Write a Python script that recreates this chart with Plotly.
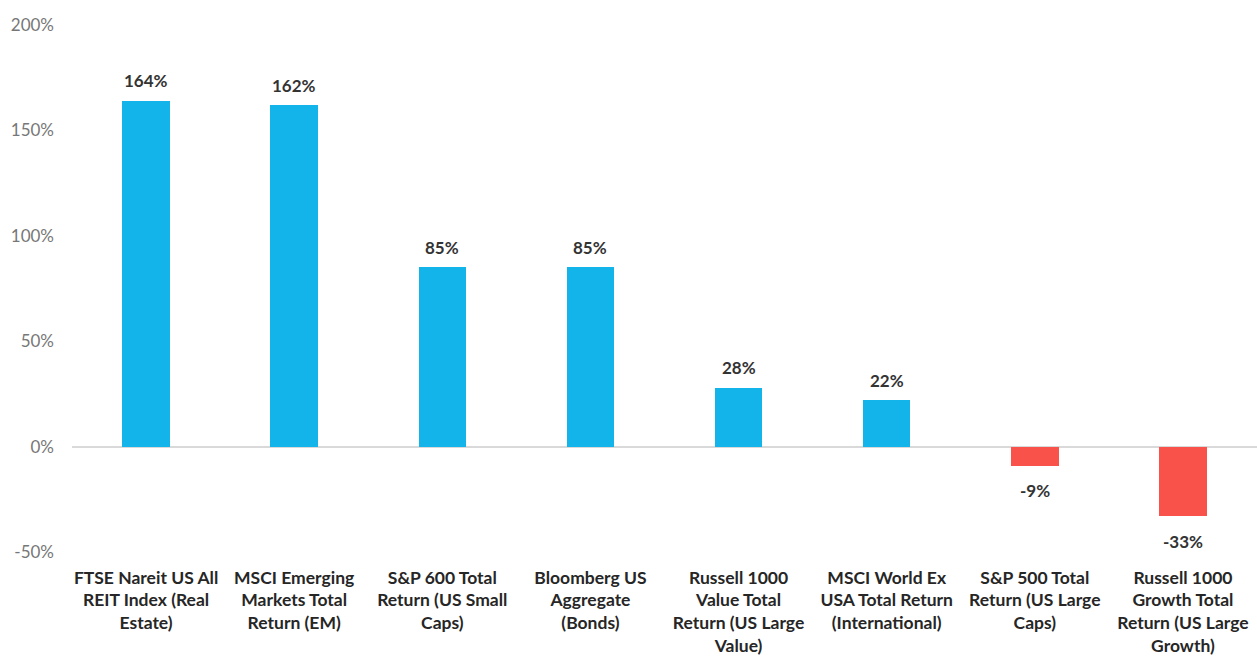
import plotly.graph_objects as go

categories = [
    "FTSE Nareit US All<br>REIT Index (Real<br>Estate)",
    "MSCI Emerging<br>Markets Total<br>Return (EM)",
    "S&P 600 Total<br>Return (US Small<br>Caps)",
    "Bloomberg US<br>Aggregate<br>(Bonds)",
    "Russell 1000<br>Value Total<br>Return (US Large<br>Value)",
    "MSCI World Ex<br>USA Total Return<br>(International)",
    "S&P 500 Total<br>Return (US Large<br>Caps)",
    "Russell 1000<br>Growth Total<br>Return (US Large<br>Growth)",
]
values = [164, 162, 85, 85, 28, 22, -9, -33]
y_ticks = [-50, 0, 50, 100, 150, 200]
y_tick_labels = ["-50%", "0%", "50%", "100%", "150%", "200%"]

BLUE = "#12B4EA"
RED = "#F8524A"
colors = [BLUE if v >= 0 else RED for v in values]

fig = go.Figure()
fig.add_trace(go.Bar(
    x=categories, y=values, marker=dict(color=colors, line=dict(width=0)),
    width=0.32, hoverinfo="skip",
))

for c, v in zip(categories, values):
    fig.add_annotation(
        x=c, y=v, text=f"<b>{v}%</b>", showarrow=False,
        yshift=20 if v >= 0 else -25,
        font=dict(family="Lato", size=17, color="#333333"),
    )

fig.update_layout(
    width=1257, height=658,
    margin=dict(l=72, r=0, t=25, b=106),
    paper_bgcolor="white", plot_bgcolor="white",
    showlegend=False,
    font=dict(family="Lato"),
    bargap=0,
)
fig.update_xaxes(
    showgrid=False, showline=False, ticks="",
    tickfont=dict(family="Lato", size=17.5, color="#262626", weight="bold"),
    ticklabelstandoff=13,
)
fig.update_yaxes(
    range=[-50, 200], tickvals=y_ticks, ticktext=y_tick_labels,
    showgrid=False, zeroline=True, zerolinecolor="#D9D9D9", zerolinewidth=2,
    tickfont=dict(family="Lato", size=17, color="#777777"),
    ticklabelstandoff=17, showline=False,
)

fig.write_html("out.html")
